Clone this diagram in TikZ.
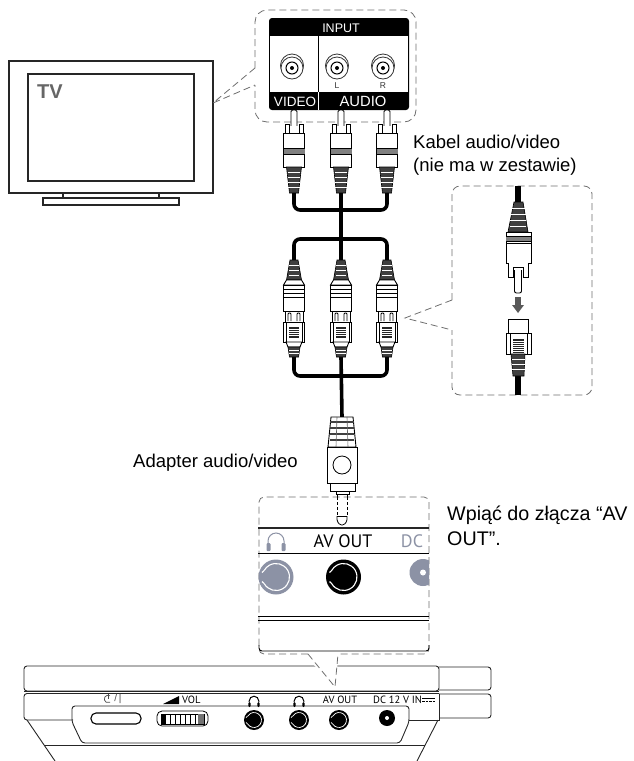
\documentclass[tikz,border=0pt]{standalone}
\usepackage{fontspec}
\setmainfont{Liberation Sans}
\newfontfamily\panelfont{PT Sans}
\definecolor{panelgray}{RGB}{140,146,165}
\definecolor{dashgray}{RGB}{110,110,110}
\tikzset{
	plugline/.style={black,line width=0.9pt,fill=white},
	cable/.style={black,line width=3.6pt,rounded corners=6pt},
	dashbox/.style={dashgray,line width=0.8pt,dash pattern=on 7pt off 4pt},
	strain/.style={fill=black!75,draw=black,line width=0.6pt},
	label/.style={inner sep=0pt,anchor=base west,font=\fontsize{18.5}{22}\selectfont},
	biglabel/.style={inner sep=0pt,anchor=base west,font=\fontsize{19.7}{22}\selectfont},
	small/.style={inner sep=0pt,font=\panelfont\fontsize{10.5}{12}\selectfont},
	pics/maleplug/.style={code={
		\draw[plugline,rounded corners=1.5pt] (-3,16) -- (-3,0) -- (3,0) -- (3,16);
		\draw[plugline] (-9,14) rectangle (-5,24);
		\draw[plugline] (5,14) rectangle (9,24);
		\draw[plugline] (-5,16) -- (-5,24) -- (5,24) -- (5,16);
		\draw[plugline] (-10.5,23) rectangle (10.5,57);
		\fill[black!50] (-10.5,38) rectangle (10.5,44);
		\draw[black,line width=0.7pt] (-10.5,38) -- (10.5,38) (-10.5,44) -- (10.5,44);
		\draw[strain] (-7.5,57) -- (7.5,57) -- (4.5,83) -- (-4.5,83) -- cycle;
		\foreach \y in {62,67,72,77} \draw[white,line width=0.4pt] (-6,\y) -- (6,\y);
	}},
	pics/midplug/.style={code={
		\draw[strain] (-4,0) -- (4,0) -- (7.5,20) -- (-7.5,20) -- cycle;
		\foreach \y in {5,10,15} \draw[white,line width=0.4pt] (-5,\y) -- (5,\y);
		\draw[plugline] (-7.5,20) -- (7.5,20) -- (10.5,25) -- (-10.5,25) -- cycle;
		\draw[plugline] (-10.5,25) rectangle (10.5,51);
		\foreach \y in {29,33,37} \draw[black,line width=0.9pt] (-10.5,\y) -- (10.5,\y);
		\draw[plugline] (-9,51) rectangle (9,62);
		\draw[plugline,rounded corners=1pt] (-6,61) -- (-6,53) -- (-3,53) -- (-3,61);
		\draw[plugline,rounded corners=1pt] (3,61) -- (3,53) -- (6,53) -- (6,61);
		\draw[plugline] (-10.5,62) rectangle (10.5,82);
		\fill[black!85] (-5,67) rectangle (5,78);
		\foreach \y in {69,71,73,75} \draw[white,line width=0.3pt] (-5,\y) -- (5,\y);
		\draw[black,line width=0.5pt] (-8,62) -- (-8,82) (8,62) -- (8,82);
		\draw[plugline] (-8,82) -- (8,82) -- (6,87) -- (-6,87) -- cycle;
		\draw[strain] (-6,87) -- (6,87) -- (4.5,97) -- (-4.5,97) -- cycle;
		\foreach \y in {90,93} \draw[white,line width=0.4pt] (-5,\y) -- (5,\y);
	}},
	pics/headset/.style={code={
		\draw[#1,line width=1pt] (-8,2) -- (-8,0) arc (180:360:8) -- (8,2);
		\fill[#1,rounded corners=1pt] (-9.5,2) rectangle (-5.5,10);
		\fill[#1,rounded corners=1pt] (5.5,2) rectangle (9.5,10);
	}},
	pics/rcajack/.style={code={
		\draw[black!80,line width=0.8pt,fill=white] (0,-1.5) circle [radius=11.5];
		\draw[black!80,line width=0.8pt,fill=white] (0,1) circle [radius=11];
		\draw[black,line width=1pt,fill=white] (0,1) circle [radius=6];
		\fill[black] (0,1) circle [radius=2];
	}},
	pics/avjack/.style={code={
		\fill[#1] (0,0) circle [radius=17.5];
		\draw[white,line width=1.1pt] (150:13.5) arc (150:-150:13.5);
		\draw[white,line width=1.1pt] (150:13.5) -- (-14,4.5) (-150:13.5) -- (-14,-4.5);
	}},
	pics/smalljack/.style={code={
		\fill[black] (0,0) circle [radius=10];
		\draw[white,line width=0.7pt] (150:7.5) arc (150:-150:7.5);
		\draw[white,line width=0.7pt] (150:7.5) -- (-8,2.5) (-150:7.5) -- (-8,-2.5);
	}},
}
\begin{document}
\begin{tikzpicture}[x=1pt,y=-1pt]
	\useasboundingbox (0,0) rectangle (634,761);
	% tv
	\draw[black!85,line width=1.4pt] (9,61) rectangle (213,193);
	\draw[black!85,line width=1.4pt] (28,74) rectangle (194,181);
	\draw[black!85,line width=1.2pt] (63,193) -- (63,198) (159,193) -- (159,198);
	\draw[black!85,line width=1.2pt] (43,198) rectangle (179,205);
	\node[inner sep=0pt,anchor=base west,text=black!60,font=\bfseries\fontsize{20}{24}\selectfont] (tvname) at (37,98) {TV};
	% callout from the tv to the input panel
	\draw[dashbox] (255,68) -- (213,103) -- (255,85);
	\draw[dashbox,rounded corners=12pt] (255,68) -- (255,10) -- (416,10) -- (416,122) -- (255,122) -- (255,85);
	% input panel
	\fill[black,rounded corners=3pt] (269,18) rectangle (409,110);
	\fill[white] (270,36) rectangle (408,92);
	\draw[black,line width=1pt] (318,36) -- (318,92);
	\draw[white,line width=1pt] (318,92) -- (318,110);
	\node[inner sep=0pt,text=white,font=\fontsize{12.5}{14}\selectfont] (input) at (341,28) {INPUT};
	\node[inner sep=0pt,text=white,font=\fontsize{13.5}{15}\selectfont] (video) at (295,101.5) {VIDEO};
	\node[inner sep=0pt,text=white,font=\fontsize{14.8}{16}\selectfont] (audio) at (363,101.5) {AUDIO};
	\node[inner sep=0pt,text=black!80,font=\fontsize{8.5}{9}\selectfont] (left) at (337,86) {L};
	\node[inner sep=0pt,text=black!80,font=\fontsize{8.5}{9}\selectfont] (right) at (383,86) {R};
	\pic at (292,67) {rcajack};
	\pic at (337,67) {rcajack};
	\pic at (383,67) {rcajack};
	% plugs of the cable
	\pic at (294,110) {maleplug};
	\pic at (341,110) {maleplug};
	\pic at (387,110) {maleplug};
	\coordinate (videoend) at (294,193);
	\coordinate (leftend) at (341,193);
	\coordinate (rightend) at (387,193);
	\draw[cable] (videoend) -- ++(0,17) -| (rightend);
	% adapter
	\coordinate (adaptertop) at (341,260);
	\coordinate (adapterjoin) at (341,357);
	\coordinate (jackend) at (342,417);
	\draw[cable] (294,260) -- (294,239) -- (387,239) -- (387,260);
	\draw[cable] (294,357) -- (294,376) -- (387,376) -- (387,357);
	\draw[cable] (leftend) -- (adaptertop);
	\draw[cable] (adapterjoin) -- (jackend);
	\pic at (294,260) {midplug};
	\pic at (341,260) {midplug};
	\pic at (387,260) {midplug};
	% big plug
	\draw[plugline] (331,417) -- (353,417) -- (356,447) -- (328,447) -- cycle;
	\foreach \y in {422,428,434,440} \draw[black!75,line width=1.2pt] (330,\y) -- (354,\y);
	\draw[black!60,line width=0.6pt] (337,417) -- (336,447) (347,417) -- (348,447);
	\draw[plugline] (327,447) rectangle (357,483);
	\draw[black,line width=0.8pt] (342,465) circle [radius=9];
	\draw[plugline] (330,483) rectangle (355,491);
	\draw[plugline] (336,491) rectangle (349,494);
	% av out panel
	\draw[dashbox,rounded corners=5pt] (308,654) -- (259,654) -- (259,497) -- (429,497) -- (429,654) -- (338,654);
	\draw[black,line width=0.8pt] (337,494) -- (337,497) (347,494) -- (347,497);
	\draw[black,line width=0.8pt,dash pattern=on 3pt off 2pt] (337,497) -- (337,516) (347,497) -- (347,516);
	\draw[black,line width=0.8pt,rounded corners=1.5pt] (337,516) -- (337,521) -- (340,525) -- (344,525) -- (347,521) -- (347,516);
	\draw[black,line width=0.6pt] (337,516) -- (347,516);
	\draw[black!85,line width=2pt] (258,528) -- (429,528);
	\draw[black,line width=1pt] (258,553) -- (429,553);
	\node[inner sep=0pt,font=\panelfont\fontsize{18}{20}\selectfont] (avout) at (343,541) {AV OUT};
	\node[inner sep=0pt,text=panelgray,font=\panelfont\fontsize{18}{20}\selectfont] (dc) at (412,541) {DC};
	\pic at (276,541) {headset=panelgray};
	\begin{scope}
		\clip (258.5,556) rectangle (429,600);
		\pic at (276,577) {avjack=panelgray};
		\pic at (343.5,577) {avjack=black};
		\fill[panelgray] (423,572.5) circle [radius=13.5];
		\fill[white] (423,572.5) circle [radius=3];
	\end{scope}
	\draw[black,line width=1pt] (258,616) -- (429,616);
	\draw[black,line width=1pt] (258,620) -- (429,620);
	\draw[black,line width=0.9pt,rounded corners=3pt] (259,645) -- (259,651) -- (429,651) -- (429,645);
	% callout on the plugging
	\draw[dashbox] (452,300) -- (405,318) -- (452,330);
	\draw[dashbox,rounded corners=8pt] (452,300) -- (452,186) -- (592,186) -- (592,395) -- (452,395) -- (452,330);
	\draw[cable,line width=5.5pt] (518,186) -- (518,204);
	\draw[cable,line width=5.5pt] (518,374) -- (518,395);
	% male end
	\draw[plugline,rounded corners=2pt] (514.5,270) -- (514.5,293) -- (521.5,293) -- (521.5,270);
	\draw[strain] (514,202) -- (523,202) -- (528,232) -- (508,232) -- cycle;
	\foreach \y in {208,214,220,226} \draw[white,line width=0.5pt] (510,\y) -- (526,\y);
	\draw[plugline] (506,232) rectangle (531,263);
	\fill[black!50] (506,236) rectangle (531,241);
	\draw[black,line width=0.8pt] (506,236) -- (531,236) (506,241) -- (531,241) (506,243) -- (531,243);
	\draw[plugline] (508,263) -- (508,277) -- (513,277) -- (513,267) -- (523,267) -- (523,277) -- (528,277) -- (528,263);
	% arrow
	\fill[black!65] (515,297) rectangle (521,305);
	\fill[black!65] (512,305) -- (524,305) -- (518,313) -- cycle;
	% socket end
	\draw[plugline] (508,319) rectangle (528,333);
	\draw[plugline] (506,333) rectangle (531,354);
	\draw[black,line width=0.5pt] (510,333) -- (510,354) (527,333) -- (527,354);
	\fill[black!85] (512.5,339) rectangle (523.5,353);
	\foreach \y in {341,343,345,347,349,351} \draw[white,line width=0.3pt] (512.5,\y) -- (523.5,\y);
	\draw[strain] (511,354) -- (525,354) -- (524,376) -- (513,376) -- cycle;
	\foreach \y in {359,364,369} \draw[white,line width=0.5pt] (512,\y) -- (525,\y);
	% dvd player
	\draw[black!85,line width=0.9pt,rounded corners=3pt] (24,666) rectangle (439,691);
	\draw[black!85,line width=0.9pt,rounded corners=3pt] (439,667) -- (491,667) -- (491,690) -- (439,690);
	\draw[black!85,line width=1.5pt] (24,691.5) -- (439,691.5);
	\draw[black!85,line width=0.9pt,rounded corners=3pt] (439,693.5) -- (24,693.5) -- (24,720) -- (73,720);
	\draw[black!85,line width=0.9pt,rounded corners=3pt] (439,694) -- (491,694) -- (491,718) -- (439,718);
	\draw[black!85,line width=0.9pt] (409,720) -- (439,720) -- (439,693.5);
	\draw[black!85,line width=0.9pt,rounded corners=3pt] (72,706) -- (72,722) -- (82,743) -- (400,743) -- (409,722) -- (409,706) -- cycle;
	\draw[black!85,line width=0.9pt] (27,720) -- (55,761);
	\draw[black!85,line width=0.9pt] (438,720) -- (417,761);
	\draw[black!85,line width=0.9pt] (45,745) -- (425,745);
	% callout from the panel down to the player
	\fill[white] (309,660) -- (336,687) -- (338,656) -- cycle;
	\draw[dashbox] (308,654) -- (335,687) -- (338,654);
	% controls
	\draw[black,line width=1.1pt,rounded corners=5pt] (91,713) rectangle (141,724);
	\draw[black,line width=0.8pt,rounded corners=5pt] (157,711) rectangle (208,726);
	\draw[black,line width=0.9pt] (161,714) rectangle (204,724);
	\foreach \x in {165,170,...,197} \draw[black,line width=0.8pt] (\x,714) -- (\x,724);
	\fill[black] (161,714) rectangle (165,724);
	\fill[black!55] (198,714) rectangle (204,724);
	\pic at (254,720) {smalljack};
	\pic at (299,720) {smalljack};
	\pic at (339,720) {smalljack};
	\fill[black] (387,718) circle [radius=8];
	\fill[white] (387,718) circle [radius=2];
	\draw[black!70,line width=0.7pt] (110,695.7) arc (-60:-300:3.8);
	\draw[black!70,line width=0.7pt] (108,693.5) -- (108,699);
	\node[inner sep=0pt,text=black!70,font=\fontsize{10}{12}\selectfont] (standby) at (118,699) {/\,|};
	\fill[black] (163,704) -- (179,696) -- (179,704) -- cycle;
	\node[small,anchor=base west] (vol) at (182,703.5) {VOL};
	\pic[scale=0.6] at (254,701) {headset=black};
	\pic[scale=0.6] at (299,701) {headset=black};
	\node[small] (jacklabel) at (340,699.5) {AV OUT};
	\node[small,anchor=base west] (dclabel) at (373,703.5) {DC 12 V IN};
	\draw[black,line width=0.8pt] (422,698) -- (435,698);
	\draw[black,line width=0.8pt,dash pattern=on 2.5pt off 1pt] (422,701) -- (435,701);
	% texts
	\node[label] (kabel) at (413,148) {Kabel audio/video};
	\node[label] (zestaw) at (413,171.5) {(nie ma w zestawie)};
	\node[label] (adapter) at (133,467) {Adapter audio/video};
	\node[biglabel] (wpiac) at (447,520) {Wpiąć do złącza “AV};
	\node[biglabel] (outtext) at (447,545) {OUT”.};
\end{tikzpicture}
\end{document}
